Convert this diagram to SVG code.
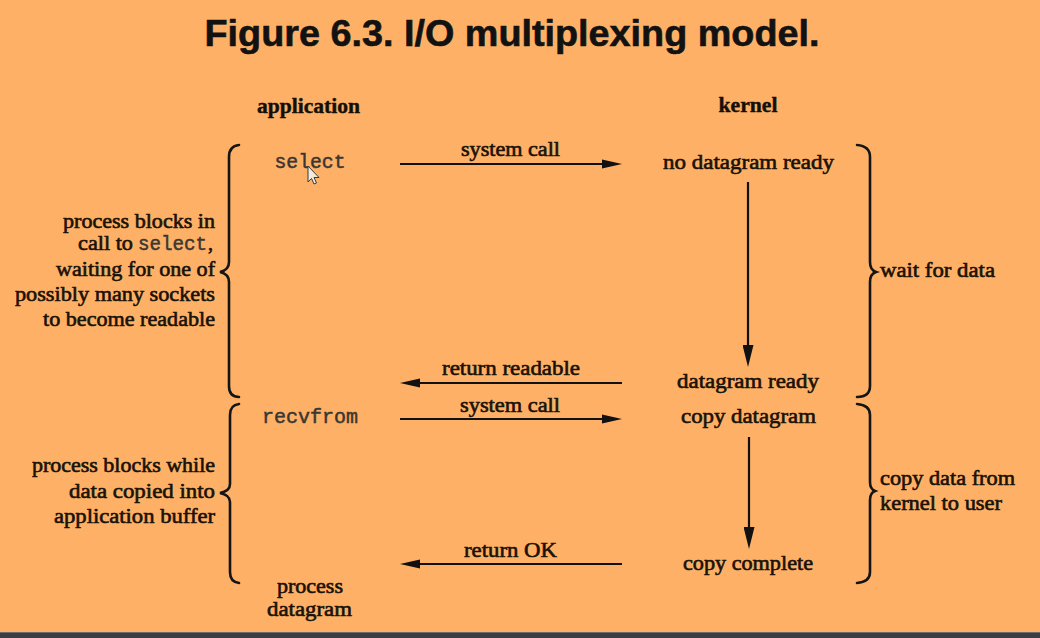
<svg xmlns="http://www.w3.org/2000/svg" width="1040" height="638" viewBox="0 0 1040 638">
<style>
.bg{fill:#FEB166}
.title{font-family:"Liberation Sans",Arial,sans-serif;font-weight:bold;font-size:37px;fill:#121212;stroke:#121212;stroke-width:0.6}
.hd{font-family:"Liberation Serif","Times New Roman",serif;font-weight:bold;font-size:20px;fill:#141008;stroke:#141008;stroke-width:0.4}
.t{font-family:"Liberation Serif","Times New Roman",serif;font-size:20px;fill:#1a1208;stroke:#1a1208;stroke-width:0.6}
.m{font-family:"Liberation Mono","Courier New",monospace;font-size:20px;fill:#3a3632;stroke:#3a3632;stroke-width:0.5}
.mid{text-anchor:middle}
.ln{stroke:#111;stroke-width:2.2;fill:none}
.br{stroke:#151515;stroke-width:2.6;fill:none;stroke-linecap:round}
</style>
<defs>
<marker id="ah" viewBox="0 0 20 10" markerWidth="20" markerHeight="10" refX="10" refY="5" orient="auto" markerUnits="userSpaceOnUse">
<path d="M0,0.5 L20,5 L0,9.5 z" fill="#111"/>
</marker>
<marker id="av" viewBox="0 0 22 11" markerWidth="22" markerHeight="11" refX="10" refY="5.5" orient="auto" markerUnits="userSpaceOnUse">
<path d="M0,0 L22,5.5 L0,11 z" fill="#111"/>
</marker>
</defs>
<rect class="bg" x="0" y="0" width="1040" height="638"/>
<rect x="0" y="632" width="1040" height="6" fill="#3b3e40"/>
<rect x="0" y="632" width="1040" height="1" fill="#6a6c6c"/>

<g id="title"><text class="title mid" x="512" y="46" textLength="615" lengthAdjust="spacingAndGlyphs">Figure 6.3. I/O multiplexing model.</text></g>

<g id="col-application"><text class="hd mid" x="308.5" y="113" textLength="103" lengthAdjust="spacingAndGlyphs">application</text></g>
<g id="col-kernel"><text class="hd mid" x="748" y="112" textLength="59" lengthAdjust="spacingAndGlyphs">kernel</text></g>

<g id="app-select"><text class="m mid" x="310" y="168" textLength="71" lengthAdjust="spacingAndGlyphs">select</text></g>
<g id="app-recvfrom"><text class="m mid" x="310" y="423" textLength="96" lengthAdjust="spacingAndGlyphs">recvfrom</text></g>
<g id="app-process">
<text class="t mid" x="310" y="593" textLength="66" lengthAdjust="spacingAndGlyphs">process</text>
<text class="t mid" x="309.5" y="616" textLength="85" lengthAdjust="spacingAndGlyphs">datagram</text>
</g>

<g id="k-nodata"><text class="t mid" x="748.5" y="169" textLength="171" lengthAdjust="spacingAndGlyphs">no datagram ready</text></g>
<g id="k-ready"><text class="t mid" x="748" y="388" textLength="142" lengthAdjust="spacingAndGlyphs">datagram ready</text></g>
<g id="k-copy"><text class="t mid" x="748.5" y="423" textLength="135" lengthAdjust="spacingAndGlyphs">copy datagram</text></g>
<g id="k-complete"><text class="t mid" x="748" y="570" textLength="130" lengthAdjust="spacingAndGlyphs">copy complete</text></g>

<g id="note-block1">
<path class="br" d="M239,145 Q229,146 229,157 L229,262 Q229,270 220,272 Q229,274 229,282 L229,386 Q229,397 239,397"/>
<text class="t" x="63" y="228" textLength="152" lengthAdjust="spacingAndGlyphs">process blocks in</text>
<text class="t" x="78" y="250" textLength="55" lengthAdjust="spacingAndGlyphs">call to</text>
<text class="m" x="138" y="250" font-size="19" textLength="69" lengthAdjust="spacingAndGlyphs">select</text>
<text class="t" x="208" y="250">,</text>
<text class="t" x="56" y="276" textLength="159" lengthAdjust="spacingAndGlyphs">waiting for one of</text>
<text class="t" x="15" y="301" textLength="200" lengthAdjust="spacingAndGlyphs">possibly many sockets</text>
<text class="t" x="43" y="326" textLength="172" lengthAdjust="spacingAndGlyphs">to become readable</text>
</g>

<g id="note-block2">
<path class="br" d="M239,404 Q230,405 230,415 L230,484 Q230,491 220,493 Q230,495 230,502 L230,572 Q230,582 239,583"/>
<text class="t" x="32" y="472" textLength="183" lengthAdjust="spacingAndGlyphs">process blocks while</text>
<text class="t" x="69" y="498" textLength="146" lengthAdjust="spacingAndGlyphs">data copied into</text>
<text class="t" x="54" y="523" textLength="161" lengthAdjust="spacingAndGlyphs">application buffer</text>
</g>

<g id="phase-wait">
<path class="br" d="M857,145 Q870,146 870,157 L870,262 Q870,270 876,272 Q870,274 870,282 L870,386 Q870,397 857,397"/>
<text class="t" x="880" y="277" textLength="115" lengthAdjust="spacingAndGlyphs">wait for data</text>
</g>

<g id="phase-copy">
<path class="br" d="M857,404 Q870,405 870,415 L870,482 Q870,489 875,491 Q870,493 870,500 L870,572 Q870,582 857,583"/>
<text class="t" x="880" y="485" textLength="135" lengthAdjust="spacingAndGlyphs">copy data from</text>
<text class="t" x="880" y="510" textLength="122" lengthAdjust="spacingAndGlyphs">kernel to user</text>
</g>

<g id="cursor">
<path d="M308,166 L308,182 L311.5,178.5 L314,184 L316.5,183 L314,177.5 L319,177.5 Z" fill="#f4ead8" stroke="#3a3a3a" stroke-width="1"/>
</g>

<g id="connectors">
<line class="ln" x1="400" y1="164" x2="612" y2="164" marker-end="url(#ah)"/>
<text class="t mid" x="510.5" y="156" textLength="99" lengthAdjust="spacingAndGlyphs">system call</text>
<line class="ln" x1="748" y1="182" x2="748" y2="355" marker-end="url(#av)"/>
<line class="ln" x1="622" y1="383" x2="410" y2="383" marker-end="url(#ah)"/>
<text class="t mid" x="511" y="375" textLength="138" lengthAdjust="spacingAndGlyphs">return readable</text>
<line class="ln" x1="400" y1="419" x2="612" y2="419" marker-end="url(#ah)"/>
<text class="t mid" x="510" y="412" textLength="100" lengthAdjust="spacingAndGlyphs">system call</text>
<line class="ln" x1="749" y1="437" x2="749" y2="537" marker-end="url(#av)"/>
<line class="ln" x1="622" y1="564" x2="410" y2="564" marker-end="url(#ah)"/>
<text class="t mid" x="510.5" y="557" textLength="93" lengthAdjust="spacingAndGlyphs">return OK</text>
</g>
</svg>
